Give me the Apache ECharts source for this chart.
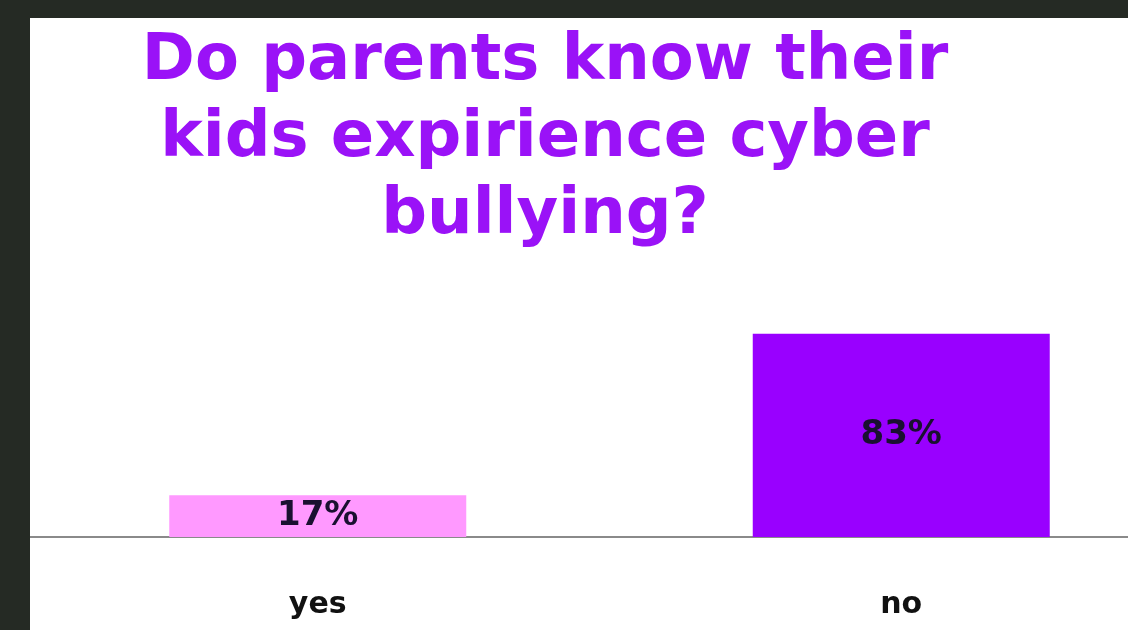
<!DOCTYPE html>
<html>
<head>
<meta charset="utf-8">
<script src="https://cdn.jsdelivr.net/npm/echarts@6/dist/echarts.min.js"></script>
<style>
  html, body { margin: 0; padding: 0; background: #252a24; width: 1128px; height: 630px; overflow: hidden; position: relative; }
  #panel { position: absolute; left: 30px; top: 18px; width: 1098px; height: 612px; background: #ffffff; }
  #chart { position: absolute; left: 26px; top: 18px; width: 1167px; height: 612px; }
  #edge { position: absolute; left: 0; top: 0; width: 30px; height: 630px; background: #252a24; z-index: 5; }
</style>
</head>
<body>
<div id="panel"></div>
<div id="chart"></div>
<div id="edge"></div>
<script>
// ====== data ======
const categories = ["yes", "no"];
const values = [17, 83];
const barColors = ["#ff99ff", "#9900ff"];
const titleText = "Do parents know their\nkids expirience cyber\nbullying?";

document.addEventListener("DOMContentLoaded", () => {
  const dom = document.getElementById("chart");
  const chart = echarts.init(dom);

  const option = {
    backgroundColor: "transparent",
    animation: false,
    graphic: [{
      type: "text",
      x: 519,
      y: 6,
      style: {
        text: titleText,
        align: "center",
        verticalAlign: "top",
        fill: "#9a12f7",
        font: "bold 64px 'DejaVu Sans'",
        lineHeight: 77
      }
    }],
    grid: { left: 0, right: 0, top: 274, bottom: 93 },
    xAxis: {
      type: "category",
      data: categories,
      axisLine: { lineStyle: { color: "#8a8a8a", width: 2 } },
      axisTick: { show: false },
      axisLabel: {
        color: "#111",
        fontFamily: "DejaVu Sans",
        fontWeight: "bold",
        fontSize: 30,
        margin: 53
      }
    },
    yAxis: {
      type: "value",
      min: 0,
      max: 100,
      show: false,
      splitLine: { show: false }
    },
    series: [{
      type: "bar",
      barWidth: 297,
      data: values.map((v, i) => ({ value: v, itemStyle: { color: barColors[i] } })),
      label: {
        show: true,
        position: "inside",
        formatter: "{c}%",
        color: "#1a1030",
        fontFamily: "DejaVu Sans",
        fontWeight: "bold",
        fontSize: 34
      }
    }]
  };

  chart.setOption(option);
  window.addEventListener("resize", () => chart.resize());
});
</script>
</body>
</html>
